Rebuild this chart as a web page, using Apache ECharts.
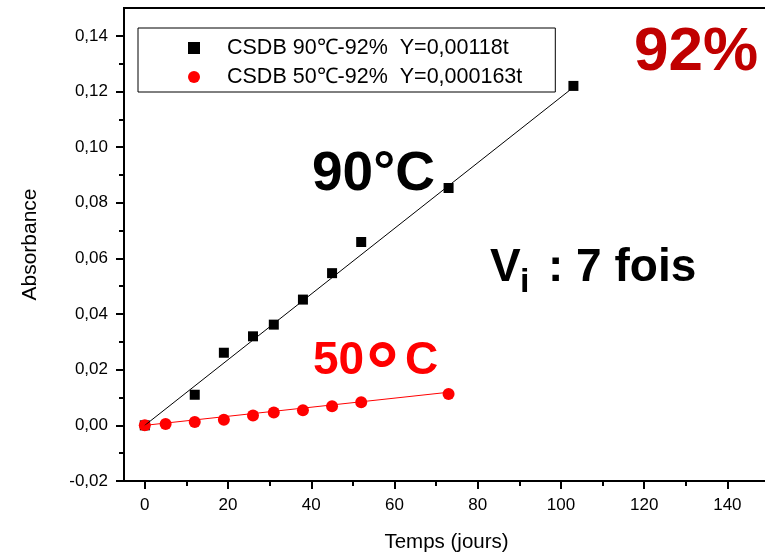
<!DOCTYPE html>
<html>
<head>
<meta charset="utf-8">
<script src="https://cdn.jsdelivr.net/npm/echarts@6/dist/echarts.min.js"></script>
<style>
  html, body { margin: 0; padding: 0; background: #fff; }
  #main { width: 765px; height: 555px; }
</style>
</head>
<body>
<div id="main"></div>
<script>
// données
var jours90 = [0, 12, 19, 26, 31, 38, 45, 52, 73, 103];
var abs90   = [0, 0.0110, 0.0261, 0.0320, 0.0362, 0.0452, 0.0547, 0.0659, 0.0853, 0.1220];
var jours50 = [0, 5, 12, 19, 26, 31, 38, 45, 52, 73];
var abs50   = [0, 0.0005, 0.0012, 0.0020, 0.0035, 0.0046, 0.0054, 0.0069, 0.0083, 0.0113];

// droites de régression (extrémités)
var fitJours90 = [0, 103];
var fitAbs90   = [0, 0.1215];
var fitJours50 = [0, 73];
var fitAbs50   = [0, 0.0119];

var xTicks      = [0, 20, 40, 60, 80, 100, 120, 140];
var xMinorTicks = [10, 30, 50, 70, 90, 110, 130];
var yTicks      = [-0.02, 0, 0.02, 0.04, 0.06, 0.08, 0.10, 0.12, 0.14];
var yMinorTicks = [-0.01, 0.01, 0.03, 0.05, 0.07, 0.09, 0.11, 0.13];

var nom90 = 'CSDB 90\u2103-92%  Y=0,00118t';
var nom50 = 'CSDB 50\u2103-92%  Y=0,000163t';

function pairs(xs, ys) {
  var out = [];
  for (var i = 0; i < xs.length; i++) out.push([xs[i], ys[i]]);
  return out;
}

var FONT = '"Liberation Sans", Arial, sans-serif';

var myChart = echarts.init(document.getElementById('main'));
var option = {
  animation: false,
  grid: {
    left: 124, top: 8, width: 645, height: 473,
    outerBoundsMode: 'none', containLabel: false,
    show: true, borderColor: '#000', borderWidth: 2
  },
  legend: {
    orient: 'vertical',
    left: 138, top: 28,
    padding: [9, 33, 4, 50],
    itemGap: 7,
    itemWidth: 12, itemHeight: 12,
    borderColor: '#000', borderWidth: 1,
    textStyle: { fontFamily: FONT, fontSize: 21.5, lineHeight: 20, color: '#000', padding: [0, 0, 0, 22] },
    data: [{ name: nom90, icon: 'rect' }, { name: nom50, icon: 'circle' }]
  },
  xAxis: [{
    type: 'value', min: -5, max: 150,
    name: 'Temps (jours)', nameLocation: 'middle', nameGap: 51,
    nameTextStyle: { fontFamily: FONT, fontSize: 20.5, color: '#000' },
    splitLine: { show: false },
    axisLine: { onZero: false, lineStyle: { color: '#000', width: 2 } },
    axisTick: { customValues: xTicks, length: 8, lineStyle: { color: '#000', width: 2 } },
    axisLabel: { customValues: xTicks, margin: 16, fontFamily: FONT, fontSize: 17, color: '#000' }
  }, {
    type: 'value', min: -5, max: 150, position: 'bottom',
    splitLine: { show: false },
    axisLine: { show: false, onZero: false },
    axisTick: { customValues: xMinorTicks, length: 5, lineStyle: { color: '#000', width: 2 } },
    axisLabel: { show: false }
  }],
  yAxis: [{
    type: 'value', min: -0.02, max: 0.15,
    name: 'Absorbance', nameLocation: 'middle', nameGap: 83, nameRotate: 90,
    nameTextStyle: { fontFamily: FONT, fontSize: 21, color: '#000' },
    splitLine: { show: false },
    axisLine: { onZero: false, lineStyle: { color: '#000', width: 2 } },
    axisTick: { customValues: yTicks, length: 8, lineStyle: { color: '#000', width: 2 } },
    axisLabel: {
      customValues: yTicks, margin: 16, fontFamily: FONT, fontSize: 17, color: '#000',
      formatter: function (v) { return v.toFixed(2).replace('.', ','); }
    }
  }, {
    type: 'value', min: -0.02, max: 0.15, position: 'left',
    splitLine: { show: false },
    axisLine: { show: false, onZero: false },
    axisTick: { customValues: yMinorTicks, length: 5, lineStyle: { color: '#000', width: 2 } },
    axisLabel: { show: false }
  }],
  series: [{
    type: 'line', name: 'fit90', data: pairs(fitJours90, fitAbs90),
    showSymbol: false, lineStyle: { color: '#000', width: 1 }, silent: true
  }, {
    type: 'line', name: 'fit50', data: pairs(fitJours50, fitAbs50),
    showSymbol: false, lineStyle: { color: '#ff0000', width: 1 }, silent: true
  }, {
    type: 'scatter', name: nom90, data: pairs(jours90, abs90),
    symbol: 'rect', symbolSize: 10, itemStyle: { color: '#000', opacity: 1 }
  }, {
    type: 'scatter', name: nom50, data: pairs(jours50, abs50),
    symbol: 'circle', symbolSize: 12, itemStyle: { color: '#ff0000', opacity: 1 }
  }],
  graphic: [
    { type: 'text', x: 312, y: 175, style: { text: '90°C', font: 'bold 55px ' + FONT, fill: '#000', verticalAlign: 'middle' } },
    // 50°C : le signe degré est plus gros sur l'original
    { type: 'text', x: 313, y: 361, style: { text: '50', font: 'bold 46px ' + FONT, fill: '#ff0000', verticalAlign: 'middle' } },
    { type: 'text', x: 366, y: 376, style: { text: '°', font: 'bold 82px ' + FONT, fill: '#ff0000', verticalAlign: 'middle' } },
    { type: 'text', x: 405, y: 361, style: { text: 'C', font: 'bold 46px ' + FONT, fill: '#ff0000', verticalAlign: 'middle' } },
    { type: 'text', x: 490, y: 268, style: { text: 'V', font: 'bold 46px ' + FONT, fill: '#000', verticalAlign: 'middle' } },
    { type: 'text', x: 520, y: 283, style: { text: 'i', font: 'bold 34px ' + FONT, fill: '#000', verticalAlign: 'middle' } },
    { type: 'text', x: 548, y: 268, style: { text: ': 7 fois', font: 'bold 46px ' + FONT, fill: '#000', verticalAlign: 'middle' } },
    { type: 'text', x: 634, y: 53, style: { text: '92%', font: 'bold 62px ' + FONT, fill: '#c00000', verticalAlign: 'middle' } }
  ]
};
myChart.setOption(option);
</script>
</body>
</html>
